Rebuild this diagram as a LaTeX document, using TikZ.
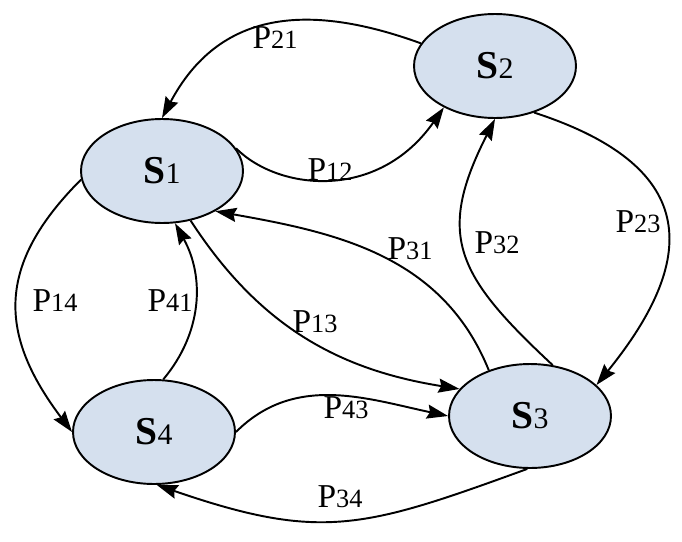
\documentclass[tikz,border=0pt]{standalone}
\usepackage{fontspec}
\setmainfont{Liberation Serif}
\usetikzlibrary{arrows.meta,shapes.geometric}
\definecolor{statefill}{RGB}{213,224,238}
\newcommand{\plab}[1]{\fontsize{19}{19}\selectfont P\fontsize{15}{15}\selectfont #1}
\newcommand{\slab}[1]{\fontsize{22.5}{22.5}\selectfont\textbf{S}\fontsize{17}{17}\selectfont #1}
\begin{document}
\begin{tikzpicture}[x=0.02cm,y=0.02cm,
  statebox/.style={ellipse,draw=black,line width=1.1pt,fill=statefill,minimum width=3.24cm,minimum height=2.08cm,inner sep=0pt},
  arr/.style={line width=1.1pt,-{Stealth[length=12pt,width=8pt,inset=1.5pt]}},
  lab/.style={inner sep=0pt}]
\useasboundingbox (0,0) rectangle (682,-541);
\node[statebox] (s1) at (162,-171) {\slab{1}};
\node[statebox] (s2) at (495,-66) {\slab{2}};
\node[statebox] (s3) at (530,-416) {\slab{3}};
\node[statebox] (s4) at (154,-432) {\slab{4}};
\draw[arr] (s2.163) to[out=160,in=62,looseness=1.15] (s1.90);
\draw[arr] (s1.17) to[out=-45,in=235,out distance=1.2cm,in distance=2.3cm] (s2.219);
\draw[arr] (s2.-50) to[out=-18,in=51,looseness=1.55] (s3.25);
\draw[arr] (s3.66) to[out=137,in=243,looseness=1.33] (s2.270);
\draw[arr] (s3.132) to[out=112,in=-10] (s1.-37);
\draw[arr] (s1.-60) to[out=-57,in=171] (s3.159);
\draw[arr] (s1.186) to[out=225,in=127,looseness=1.23] (s4.180);
\draw[arr] (s4.80) to[out=50,in=-61] (s1.-76);
\draw[arr] (s4.0) to[out=45,in=168] (s3.180);
\draw[arr] (s3.267) to[out=200,in=-19,looseness=1.2] (s4.-87);
\node[lab] (l21) at (275,-38) {\plab{21}};
\node[lab] (l12) at (330,-170) {\plab{12}};
\node[lab] (l23) at (638,-222) {\plab{23}};
\node[lab] (l32) at (497,-243) {\plab{32}};
\node[lab] (l31) at (410,-249) {\plab{31}};
\node[lab] (l13) at (315,-322) {\plab{13}};
\node[lab] (l14) at (55,-301) {\plab{14}};
\node[lab] (l41) at (170,-301) {\plab{41}};
\node[lab] (l43) at (346,-408) {\plab{43}};
\node[lab] (l34) at (340,-497) {\plab{34}};
\end{tikzpicture}
\end{document}
